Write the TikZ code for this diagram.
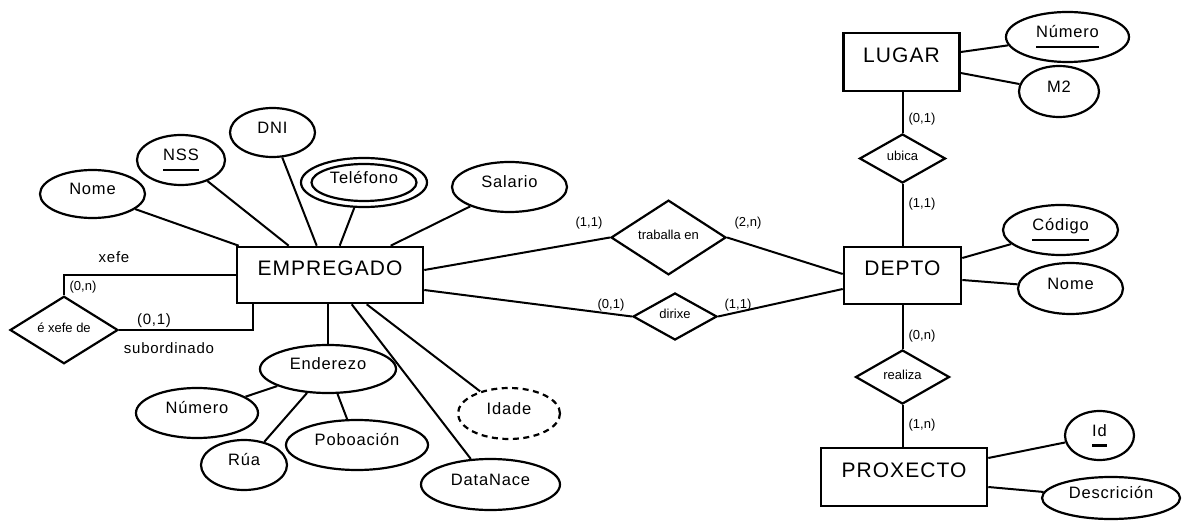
\documentclass[tikz,border=0pt]{standalone}
\usepackage{fontspec}
\setmainfont{Liberation Sans}
\newfontfamily\trackfont[LetterSpace=5]{Liberation Sans}
\usetikzlibrary{shapes.geometric}

\newcommand\entfont{\trackfont\fontsize{21pt}{24pt}\selectfont}
\newcommand\attfont{\trackfont\fontsize{16.5pt}{20pt}\selectfont}
\newcommand\relfont{\fontsize{13pt}{15pt}\selectfont}
\newcommand\rolefont{\trackfont\fontsize{15pt}{18pt}\selectfont}
% key attribute: text with a thick rule well below the baseline
\newsavebox\keybox
\newcommand\keyattr[1]{\sbox\keybox{#1}\rlap{\raisebox{-10.2pt}{\rule{\wd\keybox}{2.4pt}}}\usebox\keybox}

\tikzset{
  entity/.style={draw, rectangle, line width=2.6pt, inner sep=0pt,
    text height=14pt, text depth=13pt, font=\entfont},
  attr/.style={draw, ellipse, line width=2.2pt, inner sep=0pt,
    text height=11pt, text depth=9.2pt, font=\attfont},
  rel/.style={draw, diamond, line width=2.2pt, inner sep=0pt,
    text height=9pt, text depth=5pt, font=\relfont},
  card/.style={inner sep=0pt, font=\relfont},
  role/.style={inner sep=0pt, font=\rolefont},
  link/.style={line width=2pt},
}

\begin{document}
\begin{tikzpicture}[x=1pt, y=-1pt]
\useasboundingbox (0,0) rectangle (1186,521);

% entities
\node[entity, minimum width=186pt, minimum height=56pt] (emp) at (330,275) {EMPREGADO};
\node[entity, minimum width=117pt, minimum height=57pt] (depto) at (902.5,275.5) {DEPTO};
\node[entity, minimum width=116pt, minimum height=58pt] (lugar) at (901.5,62) {LUGAR};
\node[entity, minimum width=166pt, minimum height=58pt] (proj) at (904,477) {PROXECTO};

% relationships
\node[rel, minimum width=115pt, minimum height=69pt] (trab) at (668.5,237.5) {traballa en};
\node[rel, minimum width=84pt, minimum height=47pt] (dir) at (675,316.5) {dirixe};
\node[rel, minimum width=108pt, minimum height=56pt] (xefe) at (64,330) {é xefe de};
\node[rel, minimum width=86pt, minimum height=49pt] (ubica) at (902.5,158.5) {ubica};
\node[rel, minimum width=94pt, minimum height=54pt] (realiza) at (902.5,377) {realiza};

% attributes of EMPREGADO
\node[attr, minimum width=105pt, minimum height=48pt] (nome) at (92.5,194) {Nome};
\node[attr, minimum width=88pt, minimum height=50pt] (nss) at (181,160) {\keyattr{NSS}};
\node[attr, minimum width=85pt, minimum height=49pt] (dni) at (272.5,132.5) {DNI};
\node[attr, minimum width=126pt, minimum height=49pt] (telo) at (364,182.5) {};
\node[attr, minimum width=105pt, minimum height=37pt] (tel) at (364,182.5) {Teléfono};
\node[attr, minimum width=115pt, minimum height=50pt] (sal) at (509.5,187) {Salario};
\node[attr, minimum width=136pt, minimum height=48pt] (ender) at (328,369) {Enderezo};
\node[attr, minimum width=122pt, minimum height=50pt] (num) at (197,413) {Número};
\node[attr, minimum width=86pt, minimum height=50pt] (rua) at (244,465) {Rúa};
\node[attr, minimum width=142pt, minimum height=50pt] (pob) at (357,445) {Poboación};
\node[attr, dash pattern=on 6pt off 4.5pt, minimum width=102pt, minimum height=51pt] (idade) at (509,413.5) {Idade};
\node[attr, minimum width=139pt, minimum height=51pt] (data) at (490.5,484.5) {DataNace};

% attributes of LUGAR, DEPTO and PROXECTO
\node[attr, minimum width=123pt, minimum height=50pt] (lnum) at (1067.5,37) {\keyattr{Número}};
\node[attr, minimum width=80pt, minimum height=51pt] (m2) at (1059,91.5) {M2};
\node[attr, minimum width=115pt, minimum height=50pt] (cod) at (1060.5,230) {\keyattr{Código}};
\node[attr, minimum width=105pt, minimum height=51pt] (dnome) at (1070.5,288.5) {Nome};
\node[attr, minimum width=69pt, minimum height=49pt] (pid) at (1099.5,435.5) {\keyattr{Id}};
\node[attr, minimum width=138pt, minimum height=42pt] (desc) at (1111,498) {Descrición};

% attachment points on the entity borders
\coordinate (eT1) at ([xshift=3pt]emp.north west);
\coordinate (eT2) at ([xshift=53pt]emp.north west);
\coordinate (eT3) at ([xshift=81pt]emp.north west);
\coordinate (eT4) at ([xshift=104pt]emp.north west);
\coordinate (eT5) at ([xshift=155pt]emp.north west);
\coordinate (eB0) at ([xshift=17pt]emp.south west);
\coordinate (eB1) at (ender.north |- emp.south);
\coordinate (eB2) at ([xshift=116pt]emp.south west);
\coordinate (eB3) at ([xshift=131pt]emp.south west);
\coordinate (eR1) at ([yshift=5pt]emp.east);
\coordinate (eR2) at ([yshift=-15pt]emp.east);
\coordinate (dL1) at ([yshift=1.5pt]depto.west);
\coordinate (dL2) at ([yshift=-13.5pt]depto.west);
\coordinate (dR1) at ([yshift=17.5pt]depto.east);
\coordinate (dR2) at ([yshift=-4.5pt]depto.east);
\coordinate (lR1) at ([yshift=10pt]lugar.east);
\coordinate (lR2) at ([yshift=-11pt]lugar.east);
\coordinate (pR1) at ([yshift=19pt]proj.east);
\coordinate (pR2) at ([yshift=-10pt]proj.east);

% connectors
\draw[link] (nome) -- (eT1);
\draw[link] (nss) -- (eT2);
\draw[link] (dni) -- (eT3);
\draw[link] (telo) -- (eT4);
\draw[link] (sal) -- (eT5);
\draw[link] (ender) -- (eB1);
\draw[link] (data) -- (eB2);
\draw[link] (idade) -- (eB3);
\draw[link] (ender) -- (num);
\draw[link] (ender) -- (rua);
\draw[link] (ender) -- (pob);

\draw[link] (emp.west) -| (xefe.north);
\draw[link] (xefe.east) -| (eB0);

\draw[link] (eR1) -- (trab.west);
\draw[link] (trab.east) -- (dL1);
\draw[link] (eR2) -- (dir.west);
\draw[link] (dir.east) -- (dL2);

\draw[link] (ubica.north) -- (ubica.north |- lugar.south);
\draw[link] (ubica.south) -- (ubica.south |- depto.north);
\draw[link] (realiza.north) -- (realiza.north |- depto.south);
\draw[link] (realiza.south) -- (realiza.south |- proj.north);

\draw[link] (lnum) -- (lR1);
\draw[link] (m2) -- (lR2);
\draw[link] (cod) -- (dR1);
\draw[link] (dnome) -- (dR2);
\draw[link] (pid) -- (pR1);
\draw[link] (desc) -- (pR2);

% role names and cardinalities
\node[role] (lxefe) at (114,257) {xefe};
\node[card] (c0n) at (83,287) {(0,n)};
\node[role] (c01a) at (154,321) {(0,1)};
\node[role] (lsub) at (169,348) {subordinado};
\node[card] (c11a) at (589,223) {(1,1)};
\node[card] (c2n) at (748,223) {(2,n)};
\node[card] (c01b) at (611,305) {(0,1)};
\node[card] (c11b) at (738,305) {(1,1)};
\node[card] (c01c) at (922,119) {(0,1)};
\node[card] (c11c) at (922,204) {(1,1)};
\node[card] (c0nb) at (922,336) {(0,n)};
\node[card] (c1n) at (922,425) {(1,n)};
\end{tikzpicture}
\end{document}
